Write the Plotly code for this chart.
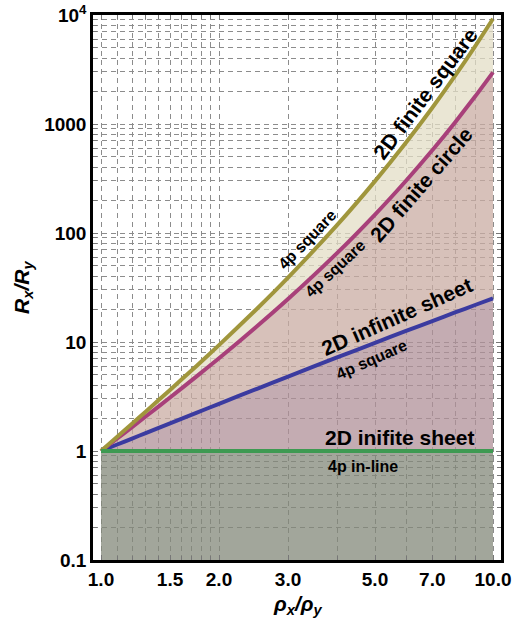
import plotly.graph_objects as go
import numpy as np

# Resistivity anisotropy ratio rho_x / rho_y
rho = [1.0, 1.1, 1.2, 1.3, 1.5, 1.75, 2.0, 2.5, 3.0, 4.0, 5.0, 6.0, 7.0, 8.0, 9.0, 10.0]

# Measured resistance ratio R_x / R_y for each geometry / probe arrangement
finite_square_4p = [1.0, 1.351, 1.780, 2.296, 3.632, 6.004, 9.366, 20.20, 38.99,
                    118.0, 299.3, 676.8, 1410.0, 2762.0, 5153.0, 9236.0]
finite_circle_4p = [1.0, 1.302, 1.657, 2.071, 3.095, 4.807, 7.096, 13.92, 24.75,
                    65.31, 147.6, 301.7, 573.8, 1034.0, 1786.0, 2977.0]
infinite_sheet_square = [1.0, 1.147, 1.301, 1.460, 1.794, 2.238, 2.710, 3.723, 4.819,
                         7.213, 9.827, 12.62, 15.57, 18.66, 21.85, 25.16]
infinite_sheet_inline = [1.0, 1.0, 1.0, 1.0, 1.0, 1.0, 1.0, 1.0, 1.0,
                         1.0, 1.0, 1.0, 1.0, 1.0, 1.0, 1.0]

x_ticks = [1.0, 1.5, 2.0, 3.0, 5.0, 7.0, 10.0]
x_ticktext = ["1.0", "1.5", "2.0", "3.0", "5.0", "7.0", "10.0"]
x_minor = [1.1, 1.2, 1.3, 1.4, 1.6, 1.7, 1.8, 1.9, 4.0, 6.0, 8.0, 9.0]
y_ticks = [0.1, 1, 10, 100, 1000, 10000]
y_ticktext = ["0.1", "1", "10", "100", "1000", "10<sup>4</sup>"]
y_minor = [m * 10.0 ** e for e in range(-1, 4) for m in range(2, 10)]

Y_MIN, Y_MAX = 0.1, 1e4

FONT = "Liberation Sans, Arial, sans-serif"
GRID = "#8c8c8c"
DASH = "5px,4px"

C_SQUARE = "#A0963C"
C_CIRCLE = "#A8407A"
C_SHEET = "#3B3BA0"
C_INLINE = "#3E9A52"

fig = go.Figure()

# invisible floor at the bottom of the y range for the lowest fill
fig.add_trace(go.Scatter(x=rho, y=[Y_MIN for _ in rho], mode="lines",
                         line=dict(width=0), hoverinfo="skip", showlegend=False))

fills = [
    (infinite_sheet_inline, "rgba(131,136,122,0.75)"),
    (infinite_sheet_square, "rgba(176,144,152,0.75)"),
    (finite_circle_4p, "rgba(202,172,163,0.75)"),
    (finite_square_4p, "rgba(227,222,198,0.75)"),
]
for ys, fc in fills:
    fig.add_trace(go.Scatter(x=rho, y=ys, mode="lines",
                             line=dict(width=0, shape="spline", smoothing=0.6),
                             fill="tonexty", fillcolor=fc,
                             hoverinfo="skip", showlegend=False))

for ys, col in [(infinite_sheet_square, C_SHEET), (finite_circle_4p, C_CIRCLE),
                (finite_square_4p, C_SQUARE), (infinite_sheet_inline, C_INLINE)]:
    fig.add_trace(go.Scatter(x=rho, y=ys, mode="lines",
                             line=dict(color=col, width=4, shape="spline", smoothing=0.6),
                             showlegend=False))

# curve labels (positions given as log10 of data values)
labels = [
    ("2D finite square", 6.71, 1924, -53, 21),
    ("4p square", 3.354, 88.1, -46, 16),
    ("4p square", 3.954, 47.7, -43, 16),
    ("2D finite circle", 6.55, 281.5, -49, 21),
    ("2D infinite sheet", 5.69, 16.96, -24, 21),
    ("4p square", 4.91, 6.84, -24, 16),
    ("2D inifite sheet", 5.79, 1.34, 0, 21),
    ("4p in-line", 4.66, 0.728, 0, 16),
]
for text, xv, yv, ang, size in labels:
    fig.add_annotation(x=np.log10(xv), y=np.log10(yv), xref="x", yref="y",
                       text=f"<b>{text}</b>", showarrow=False, textangle=ang,
                       font=dict(family=FONT, size=size, color="black"),
                       xanchor="center", yanchor="middle")

# axis titles
fig.add_annotation(x=-0.1716, y=0.501, xref="paper", yref="paper",
                   text="<b><i>R<sub>x</sub>/R<sub>y</sub></i></b>", showarrow=False,
                   textangle=-90, font=dict(family=FONT, size=21, color="black"),
                   xanchor="center", yanchor="middle")
fig.add_annotation(x=0.5, y=-0.0826, xref="paper", yref="paper",
                   text="<b><i>ρ<sub>x</sub>/ρ<sub>y</sub></i></b>", showarrow=False,
                   font=dict(family=FONT, size=21, color="black"),
                   xanchor="center", yanchor="middle")

axis_common = dict(
    showgrid=True, gridcolor=GRID, griddash=DASH, gridwidth=1,
    ticks="inside", ticklen=5, tickcolor="#777777", tickwidth=1,
    showline=True, linecolor="black", linewidth=2.5, mirror="allticks",
    zeroline=False, automargin=False,
    tickfont=dict(family=FONT, size=19, color="black", weight="bold"),
)

fig.update_layout(
    width=512, height=624,
    margin=dict(l=93, r=11, t=15, b=64),
    paper_bgcolor="white", plot_bgcolor="white",
    showlegend=False,
    xaxis=dict(type="log", range=[-0.0204, 1.0204],
               tickmode="array", tickvals=x_ticks, ticktext=x_ticktext,
               minor=dict(tickmode="array", tickvals=x_minor, showgrid=True,
                          gridcolor=GRID, griddash=DASH, gridwidth=1,
                          ticks="inside", ticklen=4, tickcolor="#777777"),
               **axis_common),
    yaxis=dict(type="log", range=[np.log10(Y_MIN), np.log10(Y_MAX)],
               tickmode="array", tickvals=y_ticks, ticktext=y_ticktext,
               minor=dict(tickmode="array", tickvals=y_minor, showgrid=True,
                          gridcolor=GRID, griddash=DASH, gridwidth=1,
                          ticks="inside", ticklen=4, tickcolor="#777777"),
               **axis_common),
)

fig.write_html("out.html")
